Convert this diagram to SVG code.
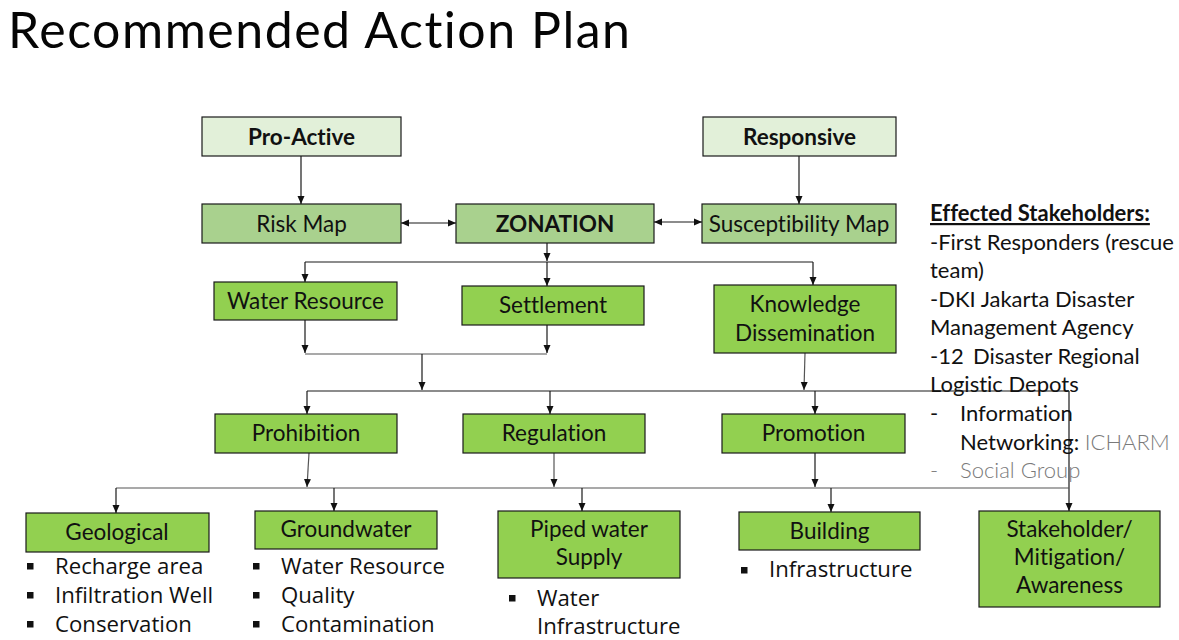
<svg xmlns="http://www.w3.org/2000/svg" width="1179" height="640" viewBox="0 0 1179 640">
  <style>
    text { font-variant-ligatures: none; }
    .box { stroke: #1a1a1a; stroke-width: 1.2; }
    .pale { fill: #E2F0D9; }
    .mid { fill: #A9D18E; }
    .bright { fill: #92D050; }
    .lbl { font-family: Lato, "Open Sans", "DejaVu Sans", sans-serif; font-size: 22.5px; fill: #111; text-anchor: middle; }
    .bold { font-weight: bold; }
    .blt { font-family: "Open Sans", "Liberation Sans", sans-serif; font-size: 22.2px; fill: #111; }
    .side { font-family: Lato, "Open Sans", "DejaVu Sans", sans-serif; font-size: 22px; fill: #111; }
    .grey { fill: #7a7a7a; font-weight: 300; }
    .ln { stroke: #1a1a1a; stroke-width: 1.2; fill: none; }
    .lng { stroke: #555; stroke-width: 1.2; fill: none; }
    .arr { marker-end: url(#head); }
    .dbl { marker-start: url(#head); marker-end: url(#head); }
  </style>
  <defs>
    <marker id="head" viewBox="0 0 8 8" refX="8" refY="4" markerWidth="8" markerHeight="8" markerUnits="userSpaceOnUse" orient="auto-start-reverse">
      <path d="M0,0.5 L8,4 L0,7.5 z" fill="#111"/>
    </marker>
  </defs>

  <rect width="1179" height="640" fill="#ffffff"/>

  <text x="8" y="48" font-family="Lato, 'Open Sans', sans-serif" font-size="50" fill="#050505" textLength="622" lengthAdjust="spacing">Recommended Action Plan</text>

  <!-- connectors -->
  <g id="connectors">
    <line class="ln arr" x1="301" y1="156" x2="301" y2="204"/>
    <line class="ln arr" x1="799" y1="156" x2="799" y2="204"/>
    <line class="ln dbl" x1="401" y1="223" x2="456" y2="223"/>
    <line class="ln dbl" x1="654" y1="222" x2="702" y2="222"/>

    <line class="ln arr" x1="547" y1="243" x2="547" y2="261"/>
    <line class="ln" x1="305" y1="262" x2="813" y2="262"/>
    <line class="ln arr" x1="305" y1="262" x2="305" y2="282"/>
    <line class="ln arr" x1="547" y1="262" x2="547" y2="286"/>
    <line class="ln arr" x1="813" y1="262" x2="813" y2="285"/>

    <line class="ln arr" x1="305" y1="320" x2="305" y2="353"/>
    <line class="ln arr" x1="547" y1="325" x2="547" y2="353"/>
    <line class="lng" x1="305" y1="354" x2="547" y2="354"/>
    <line class="ln arr" x1="422" y1="354" x2="422" y2="390"/>
    <line class="lng arr" x1="805" y1="353" x2="804" y2="390"/>

    <line class="ln" x1="307" y1="391" x2="1069" y2="391"/>
    <line class="ln arr" x1="307" y1="391" x2="307" y2="414"/>
    <line class="ln arr" x1="550" y1="391" x2="550" y2="414"/>
    <line class="ln arr" x1="815" y1="391" x2="815" y2="414"/>
    <line class="ln arr" x1="1069" y1="391" x2="1069" y2="511"/>

    <line class="lng arr" x1="309" y1="453" x2="307" y2="487"/>
    <line class="lng arr" x1="554" y1="453" x2="554" y2="487"/>
    <line class="ln arr" x1="815" y1="453" x2="815" y2="487"/>

    <line class="lng" x1="116" y1="488" x2="1069" y2="488"/>
    <line class="ln arr" x1="116" y1="488" x2="116" y2="513"/>
    <line class="ln arr" x1="334" y1="488" x2="334" y2="511"/>
    <line class="ln arr" x1="582" y1="488" x2="582" y2="511"/>
    <line class="ln arr" x1="831" y1="488" x2="831" y2="512"/>
  </g>

  <!-- top row -->
  <g id="pro-active">
    <rect class="box pale" x="202" y="117" width="199" height="39"/>
    <text class="lbl bold" x="301.5" y="144.5">Pro-Active</text>
  </g>
  <g id="responsive">
    <rect class="box pale" x="703" y="117" width="193" height="39"/>
    <text class="lbl bold" x="799.5" y="144.5">Responsive</text>
  </g>

  <!-- maps -->
  <g id="risk-map">
    <rect class="box mid" x="202" y="204" width="199" height="39"/>
    <text class="lbl" x="301.5" y="231.5">Risk Map</text>
  </g>
  <g id="zonation">
    <rect class="box mid" x="456" y="204" width="198" height="39"/>
    <text class="lbl bold" x="555" y="231.5">ZONATION</text>
  </g>
  <g id="susceptibility-map">
    <rect class="box mid" x="702" y="204" width="194" height="39"/>
    <text class="lbl" x="799" y="231.5">Susceptibility Map</text>
  </g>

  <!-- sectors -->
  <g id="water-resource">
    <rect class="box bright" x="214" y="282" width="183" height="38"/>
    <text class="lbl" x="305.5" y="308.5">Water Resource</text>
  </g>
  <g id="settlement">
    <rect class="box bright" x="462" y="286" width="182" height="39"/>
    <text class="lbl" x="553" y="313">Settlement</text>
  </g>
  <g id="knowledge-dissemination">
    <rect class="box bright" x="714" y="285" width="182" height="68"/>
    <text class="lbl" x="805" y="312">Knowledge</text>
    <text class="lbl" x="805" y="341">Dissemination</text>
  </g>

  <!-- instruments -->
  <g id="prohibition">
    <rect class="box bright" x="215" y="414" width="182" height="39"/>
    <text class="lbl" x="306" y="441">Prohibition</text>
  </g>
  <g id="regulation">
    <rect class="box bright" x="463" y="414" width="182" height="39"/>
    <text class="lbl" x="554" y="441">Regulation</text>
  </g>
  <g id="promotion">
    <rect class="box bright" x="722" y="414" width="183" height="39"/>
    <text class="lbl" x="813.5" y="441">Promotion</text>
  </g>

  <!-- targets -->
  <g id="geological">
    <rect class="box bright" x="26" y="513" width="183" height="39"/>
    <text class="lbl" x="117" y="540">Geological</text>
    <rect x="27" y="563" width="6.5" height="6.5" fill="#111"/>
    <rect x="27" y="592" width="6.5" height="6.5" fill="#111"/>
    <rect x="27" y="621" width="6.5" height="6.5" fill="#111"/>
    <text class="blt" x="55" y="574">Recharge area</text>
    <text class="blt" x="55" y="603">Infiltration Well</text>
    <text class="blt" x="55" y="632">Conservation</text>
  </g>
  <g id="groundwater">
    <rect class="box bright" x="255" y="511" width="182" height="38"/>
    <text class="lbl" x="346" y="537">Groundwater</text>
    <rect x="253" y="563" width="6.5" height="6.5" fill="#111"/>
    <rect x="253" y="592" width="6.5" height="6.5" fill="#111"/>
    <rect x="253" y="621" width="6.5" height="6.5" fill="#111"/>
    <text class="blt" x="281" y="574">Water Resource</text>
    <text class="blt" x="281" y="603">Quality</text>
    <text class="blt" x="281" y="632">Contamination</text>
  </g>
  <g id="piped-water-supply">
    <rect class="box bright" x="498" y="511" width="182" height="67"/>
    <text class="lbl" x="589" y="537">Piped water</text>
    <text class="lbl" x="589" y="565">Supply</text>
    <rect x="509" y="595" width="6.5" height="6.5" fill="#111"/>
    <text class="blt" x="537" y="606">Water</text>
    <text class="blt" x="537" y="634">Infrastructure</text>
  </g>
  <g id="building">
    <rect class="box bright" x="739" y="512" width="181" height="38"/>
    <text class="lbl" x="829.5" y="538.5">Building</text>
    <rect x="741" y="567" width="6.5" height="6.5" fill="#111"/>
    <text class="blt" x="769" y="577">Infrastructure</text>
  </g>
  <g id="stakeholder-mitigation-awareness">
    <rect class="box bright" x="979" y="511" width="181" height="96"/>
    <text class="lbl" x="1069.5" y="537">Stakeholder/</text>
    <text class="lbl" x="1069.5" y="565">Mitigation/</text>
    <text class="lbl" x="1069.5" y="593">Awareness</text>
  </g>

  <!-- stakeholder notes -->
  <g id="effected-stakeholders">
    <text class="side bold" x="930" y="221" text-decoration="underline">Effected Stakeholders:</text>
    <text class="side" x="930" y="250">-First Responders (rescue</text>
    <text class="side" x="930" y="278">team)</text>
    <text class="side" x="930" y="307">-DKI Jakarta Disaster</text>
    <text class="side" x="930" y="335">Management Agency</text>
    <text class="side" x="930" y="364">-12</text>
    <text class="side" x="973" y="364">Disaster Regional</text>
    <text class="side" x="930" y="392">Logistic Depots</text>
    <text class="side" x="930" y="421">-</text>
    <text class="side" x="960" y="421">Information</text>
    <text class="side" x="960" y="450">Networking: <tspan class="grey">ICHARM</tspan></text>
    <text class="side grey" x="930" y="478">-</text>
    <text class="side grey" x="960" y="478">Social Group</text>
  </g>
</svg>
